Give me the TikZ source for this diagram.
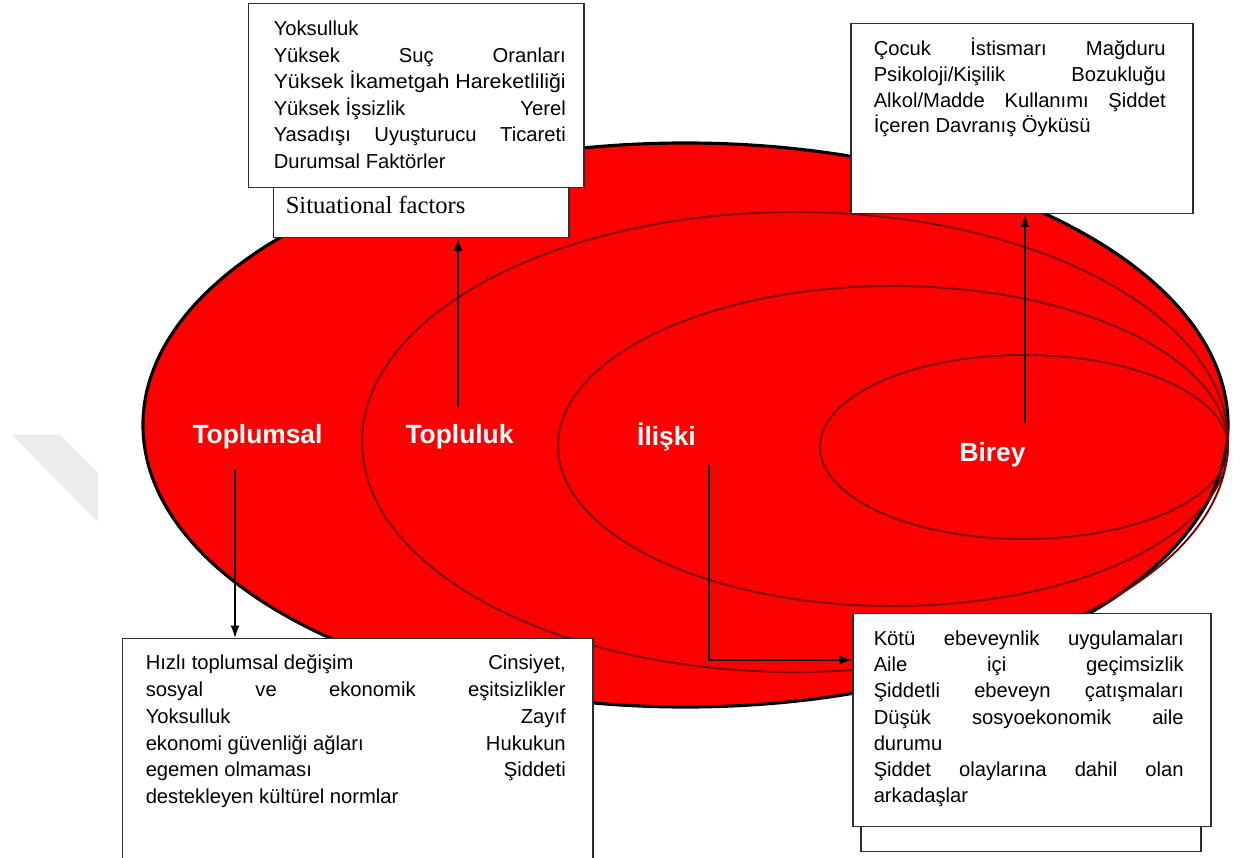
\documentclass[tikz,border=0pt]{standalone}
\usepackage{fontspec}
\setsansfont{Liberation Sans}
\newfontfamily\situfont{Liberation Serif}
\usepackage{graphicx}
\usepackage{tikz}
\usetikzlibrary{calc, arrows.meta}
\usepackage{tkz-euclide}

\definecolor{ringred}{RGB}{255,0,0}
\definecolor{ringline}{RGB}{125,0,0}
\definecolor{boxline}{RGB}{45,45,45}
\definecolor{markgray}{RGB}{236,236,236}

% left pad, text width, right pad, height, top pad, lines
\newcommand{\factortext}[6]{\hspace*{#1}\parbox[t][#4][t]{#2}{\vspace*{#5}\strut#6}\hspace*{#3}}
\newcommand{\jline}[1]{\makebox[\linewidth][s]{#1}}
\newcommand{\tightline}[1]{\resizebox{\linewidth}{\height}{#1}}

\tikzset{
  factorbox/.style={draw=boxline, fill=white, line width=0.85pt, anchor=north west, inner sep=0pt},
  ringlabel/.style={text=white, font=\sffamily\bfseries\fontsize{15}{18}\selectfont, inner sep=1pt},
  ring/.style={draw=ringline, line width=1.1pt},
  pointer/.style={-{Latex[length=7pt,width=5pt]}, line width=0.8pt},
}

\begin{document}
\begin{tikzpicture}
        \useasboundingbox (0,0) rectangle (25,17.14);
        \clip (0,0) rectangle (25,17.14);

        \tkzDefPoints{13.71/8.64/O,15.90/8.30/P,17.86/8.22/Q,20.48/8.20/R}
        \tkzDefPoints{4.70/7.74/A,9.16/9.00/B,14.18/7.84/C,14.18/3.94/D,20.50/8.68/E}

        \fill[markgray] (0.24,8.44) -- (1.20,8.44) -- (1.96,7.68) -- (1.96,6.70) -- cycle;

        % nested rings
        \fill[ringred, draw=black, line width=1.8pt] (O) ellipse [x radius=10.85cm, y radius=5.64cm];
        \draw[ring] (P) ellipse [x radius=8.66cm, y radius=4.60cm];
        \draw[ring] (Q) ellipse [x radius=6.70cm, y radius=3.20cm];
        \draw[ring] (R) ellipse [x radius=4.08cm, y radius=1.84cm];

        \node[ringlabel] (toplumsal) at (5.15,8.40) {Toplumsal};
        \node[ringlabel] (topluluk) at (9.19,8.40) {Topluluk};
        \node[ringlabel] (iliski) at (13.33,8.40) {İlişki};
        \node[ringlabel] (birey) at (19.85,8.04) {Birey};

        % factor boxes
        \node[factorbox, font=\situfont\fontsize{14}{16.8}\selectfont] (situbox) at (5.46,13.74)
            {\factortext{0.24cm}{5.0cm}{0.66cm}{1.34cm}{0.45cm}{Situational factors}};
        \node[factorbox, font=\sffamily\fontsize{11.5}{15.1}\selectfont] (commbox) at (4.96,17.08)
            {\factortext{0.50cm}{5.84cm}{0.36cm}{3.68cm}{0.27cm}{%
            Yoksulluk\\
            \jline{Yüksek Suç Oranları}\\
            \tightline{Yüksek İkametgah Hareketliliği}\\
            \jline{Yüksek İşsizlik\hfill Yerel}\\
            \jline{Yasadışı Uyuşturucu Ticareti}\\
            Durumsal Faktörler}};
        \node[factorbox, font=\sffamily\fontsize{11.5}{14.6}\selectfont] (indbox) at (17.0,16.68)
            {\factortext{0.46cm}{5.84cm}{0.54cm}{3.80cm}{0.28cm}{%
            \jline{Çocuk İstismarı Mağduru}\\
            \jline{Psikoloji/Kişilik Bozukluğu}\\
            \jline{Alkol/Madde Kullanımı Şiddet}\\
            İçeren Davranış Öyküsü}};
        \node[factorbox, font=\sffamily\fontsize{11.5}{15.2}\selectfont] (socbox) at (2.44,4.38)
            {\factortext{0.46cm}{8.40cm}{0.54cm}{4.64cm}{0.25cm}{%
            \jline{Hızlı toplumsal değişim\hfill Cinsiyet,}\\
            \jline{sosyal ve ekonomik eşitsizlikler}\\
            \jline{Yoksulluk\hfill Zayıf}\\
            \jline{ekonomi güvenliği ağları\hfill Hukukun}\\
            \jline{egemen olmaması\hfill Şiddeti}\\
            destekleyen kültürel normlar}};
        \node[factorbox, minimum width=6.8cm, minimum height=1.02cm] (relback) at (17.2,1.14) {};
        \node[factorbox, font=\sffamily\fontsize{11.5}{14.9}\selectfont] (relbox) at (17.04,4.88)
            {\factortext{0.42cm}{6.20cm}{0.54cm}{4.26cm}{0.27cm}{%
            \jline{Kötü ebeveynlik uygulamaları}\\
            \jline{Aile içi geçimsizlik}\\
            \jline{Şiddetli ebeveyn çatışmaları}\\
            \jline{Düşük sosyoekonomik aile}\\
            durumu\\
            \jline{Şiddet olaylarına dahil olan}\\
            arkadaşlar}};

        \draw[pointer] (A) -- (A |- socbox.north);
        \draw[pointer] (B) -- (B |- situbox.south);
        \draw[pointer] (C) -- (D) -- (D -| relbox.west);
        \draw[pointer] (E) -- (E |- indbox.south);
\end{tikzpicture}
\end{document}
